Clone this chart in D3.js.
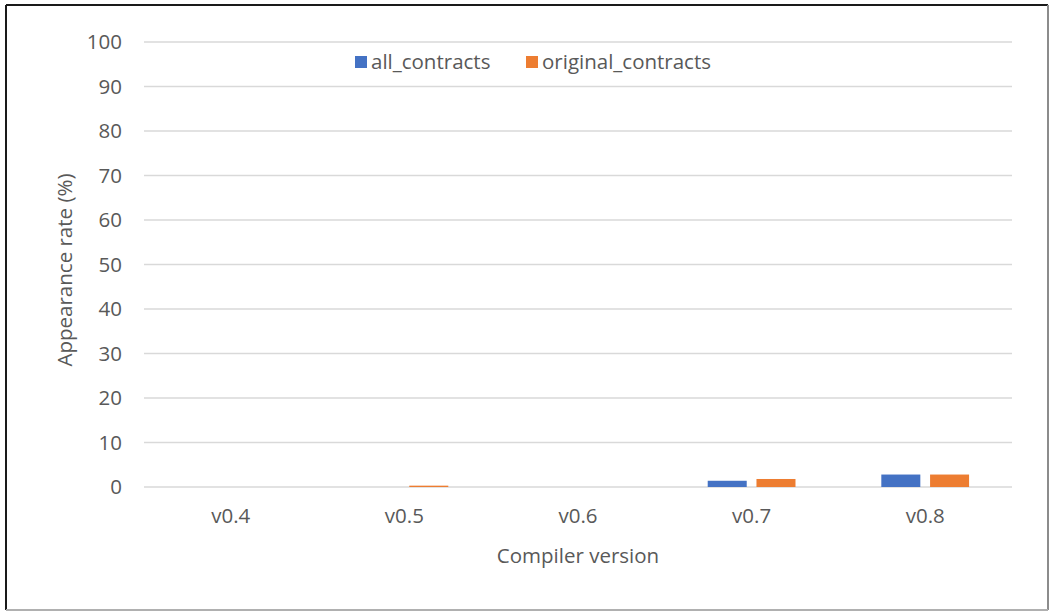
<!DOCTYPE html>
<html>
<head>
<meta charset="utf-8">
<script src="https://cdn.jsdelivr.net/npm/d3@7"></script>
<style>
  body { margin: 0; background: #fff; }
  text { font-family: "Open Sans", "Liberation Sans", sans-serif; fill: #595959; }
</style>
</head>
<body>
<div id="chart"></div>
<script>
const versions = ['v0.4', 'v0.5', 'v0.6', 'v0.7', 'v0.8'];
const allContracts = [0, 0, 0, 1.4, 2.8];
const originalContracts = [0, 0.3, 0, 1.8, 2.8];
const yTicks = [0, 10, 20, 30, 40, 50, 60, 70, 80, 90, 100];
const seriesNames = ['all_contracts', 'original_contracts'];
const colors = ['#4472c4', '#ed7d31'];

const W = 1049, H = 611;
const margin = { top: 42, right: 37, bottom: 124, left: 144 };
const width = W - margin.left - margin.right;
const height = H - margin.top - margin.bottom;
const fs = '20.5px';

const svg = d3.select('#chart').append('svg')
  .attr('width', W).attr('height', H);

// frame
svg.append('line').attr('x1', 6).attr('y1', 5).attr('x2', 6).attr('y2', 610)
  .attr('stroke', '#1a1a1a').attr('stroke-width', 2);
svg.append('line').attr('x1', 6).attr('y1', 5).attr('x2', 1048).attr('y2', 5)
  .attr('stroke', '#1a1a1a').attr('stroke-width', 2);
svg.append('line').attr('x1', 1048).attr('y1', 5).attr('x2', 1048).attr('y2', 610)
  .attr('stroke', '#8c8c8c').attr('stroke-width', 2);
svg.append('line').attr('x1', 6).attr('y1', 610).attr('x2', 1048).attr('y2', 610)
  .attr('stroke', '#b0b0b0').attr('stroke-width', 2);

const g = svg.append('g').attr('transform', `translate(${margin.left},${margin.top})`);

const x = d3.scaleBand().domain(versions).range([0, width]);
const x1 = d3.scaleBand().domain(seriesNames).range([0, x.bandwidth()]).paddingInner(0.2).paddingOuter(0.88);
const y = d3.scaleLinear().domain([0, 100]).range([height, 0]);

// gridlines
g.selectAll('.grid').data(yTicks).enter().append('line')
  .attr('x1', 0).attr('x2', width)
  .attr('y1', d => y(d)).attr('y2', d => y(d))
  .attr('stroke', '#d9d9d9').attr('stroke-width', 1.5);

// y axis labels
const yAxis = g.append('g').call(d3.axisLeft(y).tickValues(yTicks).tickSize(0).tickPadding(22));
yAxis.select('.domain').remove();
yAxis.selectAll('text').style('font-size', fs).attr('fill', '#595959');

// x axis labels
const xAxis = g.append('g').attr('transform', `translate(0,${height})`)
  .call(d3.axisBottom(x).tickSize(0).tickPadding(21));
xAxis.select('.domain').remove();
xAxis.selectAll('text').style('font-size', fs).attr('fill', '#595959');

// bars
const series = [allContracts, originalContracts];
series.forEach((vals, si) => {
  g.selectAll('.bar' + si).data(vals).enter().append('rect')
    .attr('x', (d, i) => x(versions[i]) + x1(seriesNames[si]))
    .attr('width', x1.bandwidth())
    .attr('y', d => y(d))
    .attr('height', d => height - y(d))
    .attr('fill', colors[si]);
});

// legend
const legend = svg.append('g');
const legendX = [355, 526];
seriesNames.forEach((n, i) => {
  legend.append('rect').attr('x', legendX[i]).attr('y', 56).attr('width', 12).attr('height', 12)
    .attr('fill', colors[i]);
  legend.append('text').attr('x', legendX[i] + 16).attr('y', 69)
    .style('font-size', fs).text(n);
});

// axis titles
svg.append('text').attr('x', 578).attr('y', 563).attr('text-anchor', 'middle')
  .style('font-size', fs).text('Compiler version');
svg.append('text').attr('transform', 'translate(72,270) rotate(-90)').attr('text-anchor', 'middle')
  .style('font-size', fs).text('Appearance rate (%)');
</script>
</body>
</html>
